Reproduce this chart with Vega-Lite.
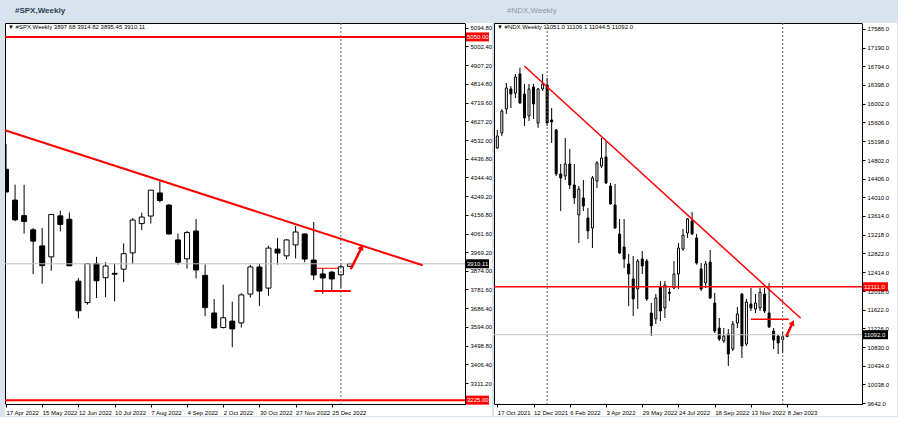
{
  "$schema": "https://vega.github.io/schema/vega-lite/v6.json",
  "background": "#d9e3ee",
  "padding": {"left": 0, "top": 6, "right": 0, "bottom": 0},
  "bounds": "flush",
  "spacing": 29,
  "config": {
    "font": "Liberation Sans",
    "view": {"stroke": "#000000", "fill": "#ffffff", "strokeWidth": 1},
    "axis": {"labelFont": "Liberation Sans", "labelFontSize": 6, "labelColor": "#000000", "domainColor": "#000000", "tickColor": "#000000", "tickSize": 3, "grid": false, "labelOverlap": false, "zindex": 1, "tickCount": 200},
    "scale": {"continuousPadding": 0}
  },
  "datasets": {
    "spx": [
      {"d": "2022-04-17", "o": 4385, "h": 4512, "l": 4267, "c": 4271},
      {"d": "2022-04-24", "o": 4230, "h": 4308, "l": 4124, "c": 4131},
      {"d": "2022-05-01", "o": 4152, "h": 4307, "l": 4062, "c": 4123},
      {"d": "2022-05-08", "o": 4081, "h": 4090, "l": 3858, "c": 4024},
      {"d": "2022-05-15", "o": 4000, "h": 4090, "l": 3810, "c": 3901},
      {"d": "2022-05-22", "o": 3945, "h": 4158, "l": 3875, "c": 4158},
      {"d": "2022-05-29", "o": 4151, "h": 4177, "l": 4073, "c": 4108},
      {"d": "2022-06-05", "o": 4134, "h": 4168, "l": 3900, "c": 3900},
      {"d": "2022-06-12", "o": 3823, "h": 3838, "l": 3636, "c": 3674},
      {"d": "2022-06-19", "o": 3715, "h": 3913, "l": 3705, "c": 3911},
      {"d": "2022-06-26", "o": 3912, "h": 3945, "l": 3738, "c": 3825},
      {"d": "2022-07-03", "o": 3840, "h": 3918, "l": 3742, "c": 3899},
      {"d": "2022-07-10", "o": 3862, "h": 3912, "l": 3721, "c": 3858},
      {"d": "2022-07-17", "o": 3883, "h": 4012, "l": 3818, "c": 3961},
      {"d": "2022-07-24", "o": 3965, "h": 4140, "l": 3910, "c": 4130},
      {"d": "2022-07-31", "o": 4112, "h": 4167, "l": 4079, "c": 4145},
      {"d": "2022-08-07", "o": 4150, "h": 4280, "l": 4112, "c": 4280},
      {"d": "2022-08-14", "o": 4266, "h": 4325, "l": 4218, "c": 4228},
      {"d": "2022-08-21", "o": 4205, "h": 4210, "l": 4057, "c": 4060},
      {"d": "2022-08-28", "o": 4030, "h": 4062, "l": 3906, "c": 3918},
      {"d": "2022-09-04", "o": 3935, "h": 4076, "l": 3886, "c": 4067},
      {"d": "2022-09-11", "o": 4075, "h": 4135, "l": 3837, "c": 3879},
      {"d": "2022-09-18", "o": 3852, "h": 3907, "l": 3647, "c": 3690},
      {"d": "2022-09-25", "o": 3663, "h": 3733, "l": 3584, "c": 3588},
      {"d": "2022-10-02", "o": 3590, "h": 3806, "l": 3585, "c": 3639},
      {"d": "2022-10-09", "o": 3622, "h": 3720, "l": 3491, "c": 3583},
      {"d": "2022-10-16", "o": 3613, "h": 3762, "l": 3590, "c": 3754},
      {"d": "2022-10-23", "o": 3758, "h": 3905, "l": 3740, "c": 3894},
      {"d": "2022-10-30", "o": 3894, "h": 3911, "l": 3698, "c": 3773},
      {"d": "2022-11-06", "o": 3788, "h": 4001, "l": 3749, "c": 3989},
      {"d": "2022-11-13", "o": 3984, "h": 4040, "l": 3906, "c": 3964},
      {"d": "2022-11-20", "o": 3950, "h": 4034, "l": 3933, "c": 4030},
      {"d": "2022-11-27", "o": 4005, "h": 4100, "l": 3937, "c": 4070},
      {"d": "2022-12-04", "o": 4060, "h": 4062, "l": 3918, "c": 3934},
      {"d": "2022-12-11", "o": 3929, "h": 4120, "l": 3828, "c": 3854},
      {"d": "2022-12-18", "o": 3859, "h": 3889, "l": 3760, "c": 3839},
      {"d": "2022-12-25", "o": 3868, "h": 3874, "l": 3778, "c": 3834},
      {"d": "2023-01-01", "o": 3855, "h": 3905, "l": 3790, "c": 3895},
      {"d": "2023-01-08", "o": 3897.68, "h": 3914.82, "l": 3895.45, "c": 3910.11}
    ],
    "ndx": [
      {"d": "2021-10-17", "o": 15060, "h": 15440, "l": 15040, "c": 15313},
      {"d": "2021-10-24", "o": 15377, "h": 15880, "l": 15313, "c": 15843},
      {"d": "2021-10-31", "o": 15887, "h": 16439, "l": 15781, "c": 16333},
      {"d": "2021-11-07", "o": 16312, "h": 16375, "l": 15908, "c": 16205},
      {"d": "2021-11-14", "o": 16227, "h": 16630, "l": 16120, "c": 16566},
      {"d": "2021-11-21", "o": 16630, "h": 16764, "l": 15993, "c": 16014},
      {"d": "2021-11-28", "o": 16205, "h": 16418, "l": 15526, "c": 15696},
      {"d": "2021-12-05", "o": 15738, "h": 16418, "l": 15632, "c": 16312},
      {"d": "2021-12-12", "o": 16354, "h": 16418, "l": 15674, "c": 15993},
      {"d": "2021-12-19", "o": 15589, "h": 16333, "l": 15484, "c": 16312},
      {"d": "2021-12-26", "o": 16312, "h": 16630, "l": 16269, "c": 16418},
      {"d": "2022-01-02", "o": 16397, "h": 16545, "l": 15526, "c": 15589},
      {"d": "2022-01-09", "o": 15653, "h": 15908, "l": 15165, "c": 15611},
      {"d": "2022-01-16", "o": 15441, "h": 15462, "l": 14464, "c": 14506},
      {"d": "2022-01-23", "o": 14506, "h": 14718, "l": 13720, "c": 14421},
      {"d": "2022-01-30", "o": 14464, "h": 15271, "l": 14379, "c": 14718},
      {"d": "2022-02-06", "o": 14718, "h": 15037, "l": 14187, "c": 14272},
      {"d": "2022-02-13", "o": 14272, "h": 14718, "l": 13869, "c": 13997},
      {"d": "2022-02-20", "o": 13635, "h": 14251, "l": 13041, "c": 14187},
      {"d": "2022-02-27", "o": 13997, "h": 14379, "l": 13720, "c": 13827},
      {"d": "2022-03-06", "o": 13572, "h": 13784, "l": 13126, "c": 13296},
      {"d": "2022-03-13", "o": 13359, "h": 14464, "l": 12934, "c": 14421},
      {"d": "2022-03-20", "o": 14357, "h": 14782, "l": 14209, "c": 14740},
      {"d": "2022-03-27", "o": 14676, "h": 15271, "l": 14634, "c": 14846},
      {"d": "2022-04-03", "o": 14867, "h": 15207, "l": 14294, "c": 14315},
      {"d": "2022-04-10", "o": 14251, "h": 14315, "l": 13860, "c": 13869},
      {"d": "2022-04-17", "o": 13848, "h": 14294, "l": 13338, "c": 13359},
      {"d": "2022-04-24", "o": 13232, "h": 13550, "l": 12807, "c": 12828},
      {"d": "2022-05-01", "o": 12956, "h": 13550, "l": 12510, "c": 12701},
      {"d": "2022-05-08", "o": 12595, "h": 12807, "l": 11702, "c": 12382},
      {"d": "2022-05-15", "o": 12276, "h": 12765, "l": 11490, "c": 11851},
      {"d": "2022-05-22", "o": 12064, "h": 12701, "l": 11639, "c": 12658},
      {"d": "2022-05-29", "o": 12701, "h": 12871, "l": 12382, "c": 12552},
      {"d": "2022-06-05", "o": 12658, "h": 12701, "l": 11809, "c": 11851},
      {"d": "2022-06-12", "o": 11554, "h": 11766, "l": 11065, "c": 11278},
      {"d": "2022-06-19", "o": 11426, "h": 11957, "l": 11320, "c": 11872},
      {"d": "2022-06-26", "o": 12106, "h": 12233, "l": 11384, "c": 11596},
      {"d": "2022-07-03", "o": 11660, "h": 12233, "l": 11448, "c": 12148},
      {"d": "2022-07-10", "o": 11994, "h": 12085, "l": 11809, "c": 11972},
      {"d": "2022-07-17", "o": 12085, "h": 12658, "l": 12064, "c": 12382},
      {"d": "2022-07-24", "o": 12382, "h": 13041, "l": 12064, "c": 12934},
      {"d": "2022-07-31", "o": 12913, "h": 13338, "l": 12871, "c": 13210},
      {"d": "2022-08-07", "o": 13253, "h": 13572, "l": 13147, "c": 13550},
      {"d": "2022-08-14", "o": 13508, "h": 13700, "l": 13210, "c": 13232},
      {"d": "2022-08-21", "o": 13147, "h": 13232, "l": 12580, "c": 12616},
      {"d": "2022-08-28", "o": 12489, "h": 12616, "l": 12021, "c": 12064},
      {"d": "2022-09-04", "o": 12191, "h": 12658, "l": 12085, "c": 12595},
      {"d": "2022-09-11", "o": 12637, "h": 12892, "l": 11851, "c": 11872},
      {"d": "2022-09-18", "o": 11766, "h": 11979, "l": 11129, "c": 11172},
      {"d": "2022-09-25", "o": 11235, "h": 11448, "l": 10959, "c": 11002},
      {"d": "2022-10-02", "o": 10959, "h": 11235, "l": 10917, "c": 11066},
      {"d": "2022-10-09", "o": 11108, "h": 11214, "l": 10428, "c": 10683},
      {"d": "2022-10-16", "o": 10789, "h": 11384, "l": 10747, "c": 11320},
      {"d": "2022-10-23", "o": 11342, "h": 11681, "l": 11235, "c": 11533},
      {"d": "2022-10-30", "o": 11957, "h": 11979, "l": 10598, "c": 10853},
      {"d": "2022-11-06", "o": 10895, "h": 11851, "l": 10853, "c": 11787},
      {"d": "2022-11-13", "o": 11745, "h": 12085, "l": 11596, "c": 11660},
      {"d": "2022-11-20", "o": 11639, "h": 11957, "l": 11554, "c": 11766},
      {"d": "2022-11-27", "o": 11660, "h": 12085, "l": 11596, "c": 11994},
      {"d": "2022-12-04", "o": 11957, "h": 12085, "l": 11554, "c": 11596},
      {"d": "2022-12-11", "o": 11554, "h": 12186, "l": 11235, "c": 11258},
      {"d": "2022-12-18", "o": 11172, "h": 11235, "l": 10789, "c": 10980},
      {"d": "2022-12-25", "o": 11066, "h": 11087, "l": 10683, "c": 10917},
      {"d": "2023-01-01", "o": 10990, "h": 11150, "l": 10700, "c": 11051},
      {"d": "2023-01-08", "o": 11051.0, "h": 11109.1, "l": 11044.5, "c": 11092.0}
    ]
  },
  "hconcat": [
    {
      "width": 460,
      "height": 381,
      "layer": [
        {
          "data": {"values": [{"s": "side"}]},
          "mark": {"type": "rect", "color": "#ffffff", "x2Offset": 27, "y2Offset": 12},
          "encoding": {"x": {"datum": {"year": 2023, "month": 4, "date": 7, "utc": true}, "type": "temporal"}, "x2": {"datum": {"year": 2023, "month": 4, "date": 7, "utc": true}},
            "y": {"datum": 5119.9, "type": "quantitative"}, "y2": {"datum": 3205.7}}
        },
        {
          "data": {"values": [{"s": "bottom"}]},
          "mark": {"type": "rect", "color": "#ffffff", "x2Offset": 27, "y2Offset": 12},
          "encoding": {"x": {"datum": {"year": 2022, "month": 4, "date": 16, "hours": 5, "minutes": 30, "utc": true}, "type": "temporal"}, "x2": {"datum": {"year": 2023, "month": 4, "date": 7, "utc": true}},
            "y": {"datum": 3205.7, "type": "quantitative"}, "y2": {"datum": 3205.7}}
        },
        {
          "data": {"values": [{"t": "#SPX,Weekly"}]},
          "mark": {"type": "text", "align": "left", "baseline": "middle", "dx": 10, "dy": -12, "fontSize": 8, "fontWeight": "bold", "color": "#2d3e52"},
          "encoding": {"x": {"datum": {"year": 2022, "month": 4, "date": 16, "hours": 5, "minutes": 30, "utc": true}, "type": "temporal"}, "y": {"datum": 5119.9, "type": "quantitative"}, "text": {"field": "t"}}
        },
        {
          "data": {"values": [{"t": "▼ #SPX,Weekly  3897.68 3914.82 3895.45 3910.11"}]},
          "mark": {"type": "text", "align": "left", "baseline": "middle", "dx": 3, "dy": 3.5, "fontSize": 6, "color": "#000000"},
          "encoding": {"x": {"datum": {"year": 2022, "month": 4, "date": 16, "hours": 5, "minutes": 30, "utc": true}, "type": "temporal"}, "y": {"datum": 5119.9, "type": "quantitative"}, "text": {"field": "t"}}
        },
        {
          "data": {"name": "spx"},
          "mark": {"type": "rule", "color": "#000000", "strokeWidth": 1, "clip": true},
          "encoding": {
            "x": {"field": "d", "type": "temporal", "scale": {"type": "utc", "padding": 0, "domain": [{"year": 2022, "month": 4, "date": 16, "hours": 5, "minutes": 30, "utc": true}, {"year": 2023, "month": 4, "date": 7, "utc": true}]},
              "axis": {"orient": "bottom", "title": null, "format": "%-d %b %Y", "labelAlign": "left", "labelPadding": 2, "labelFlush": false, "labelOverlap": false, "zindex": 1, "tickCount": 200,
                "values": [{"year": 2022, "month": 4, "date": 17, "utc": true}, {"year": 2022, "month": 5, "date": 15, "utc": true}, {"year": 2022, "month": 6, "date": 12, "utc": true}, {"year": 2022, "month": 7, "date": 10, "utc": true}, {"year": 2022, "month": 8, "date": 7, "utc": true}, {"year": 2022, "month": 9, "date": 4, "utc": true}, {"year": 2022, "month": 10, "date": 2, "utc": true}, {"year": 2022, "month": 10, "date": 30, "utc": true}, {"year": 2022, "month": 11, "date": 27, "utc": true}, {"year": 2022, "month": 12, "date": 25, "utc": true}]}},
            "y": {"field": "l", "type": "quantitative", "scale": {"domain": [3205.7, 5119.9], "zero": false, "nice": false},
              "axis": {"orient": "right", "title": null, "format": ".2f", "labelPadding": 2, "labelOverlap": false, "labelBaseline": "middle", "zindex": 1, "tickCount": 200,
                "values": [5094.80, 5002.40, 4907.20, 4814.80, 4719.60, 4627.20, 4532.00, 4436.80, 4344.40, 4249.20, 4156.80, 4061.60, 3969.20, 3874.00, 3781.60, 3686.40, 3594.00, 3498.80, 3406.40, 3311.20]}},
            "y2": {"field": "h"}
          }
        },
        {
          "data": {"name": "spx"},
          "mark": {"type": "bar", "width": 5, "stroke": "#000000", "strokeWidth": 1, "clip": true},
          "encoding": {
            "x": {"field": "d", "type": "temporal"},
            "y": {"field": "o", "type": "quantitative"},
            "y2": {"field": "c"},
            "fill": {"condition": {"test": "datum.c >= datum.o", "value": "#ffffff"}, "value": "#000000"}
          }
        },
        {
          "data": {"values": [{"p": 3910.11}]},
          "mark": {"type": "rule", "color": "#c0c0c0", "strokeWidth": 1},
          "encoding": {"y": {"field": "p", "type": "quantitative"}}
        },
        {
          "data": {"values": [{"p": 5050}, {"p": 3225}]},
          "mark": {"type": "rule", "color": "#ff0000", "strokeWidth": 2},
          "encoding": {"y": {"field": "p", "type": "quantitative"}}
        },
        {
          "data": {"values": [{"d": "2023-01-01"}]},
          "mark": {"type": "rule", "color": "#606060", "strokeWidth": 1, "strokeDash": [2, 2]},
          "encoding": {"x": {"field": "d", "type": "temporal"}}
        },
        {
          "data": {"values": [{"d": "2022-04-16T05:30:00Z", "p": 4580.8}, {"d": "2023-03-05T07:00:00Z", "p": 3902.6}]},
          "mark": {"type": "line", "color": "#ff0000", "strokeWidth": 2},
          "encoding": {"x": {"field": "d", "type": "temporal"}, "y": {"field": "p", "type": "quantitative"}}
        },
        {
          "data": {"values": [{"d1": "2022-12-13T07:00:00Z", "d2": "2022-12-30T00:00:00Z", "p": 3887.5, "w": "thin"}, {"d1": "2022-12-11T12:00:00Z", "d2": "2023-01-08T15:00:00Z", "p": 3773.5, "w": "thick"}]},
          "mark": {"type": "rule", "color": "#ff0000"},
          "encoding": {"x": {"field": "d1", "type": "temporal"}, "x2": {"field": "d2"}, "y": {"field": "p", "type": "quantitative"},
            "strokeWidth": {"field": "w", "type": "nominal", "scale": {"domain": ["thin", "thick"], "range": [1, 2]}, "legend": null}}
        },
        {
          "data": {"values": [{"d": "2023-01-08T15:00:00Z", "p": 3882.5}, {"d": "2023-01-16T12:00:00Z", "p": 3985}]},
          "mark": {"type": "line", "color": "#ff0000", "strokeWidth": 2.5},
          "encoding": {"x": {"field": "d", "type": "temporal"}, "y": {"field": "p", "type": "quantitative"}}
        },
        {
          "data": {"values": [{"d": "2023-01-17T02:00:00Z", "p": 3994.5}]},
          "mark": {"type": "point", "shape": "triangle-up", "filled": true, "color": "#ff0000", "size": 45, "angle": 26, "opacity": 1},
          "encoding": {"x": {"field": "d", "type": "temporal"}, "y": {"field": "p", "type": "quantitative"}}
        },
        {
          "data": {"values": [{"p": 5050, "k": "line"}, {"p": 3225, "k": "line"}, {"p": 3910.11, "k": "price"}]},
          "mark": {"type": "rect", "xOffset": 0, "x2Offset": 24, "yOffset": -4.5, "y2Offset": 4.5},
          "encoding": {"x": {"datum": {"year": 2023, "month": 4, "date": 7, "utc": true}, "type": "temporal"}, "x2": {"datum": {"year": 2023, "month": 4, "date": 7, "utc": true}},
            "y": {"field": "p", "type": "quantitative"}, "y2": {"field": "p"},
            "color": {"field": "k", "type": "nominal", "scale": {"domain": ["line", "price"], "range": ["#ff0000", "#000000"]}, "legend": null}}
        },
        {
          "data": {"values": [{"p": 5050, "t": "5050.00"}, {"p": 3225, "t": "3225.00"}, {"p": 3910.11, "t": "3910.11"}]},
          "mark": {"type": "text", "align": "left", "baseline": "middle", "dx": 2, "fontSize": 6, "color": "#ffffff"},
          "encoding": {"x": {"datum": {"year": 2023, "month": 4, "date": 7, "utc": true}, "type": "temporal"}, "y": {"field": "p", "type": "quantitative"}, "text": {"field": "t"}}
        }
      ]
    },
    {
      "width": 368,
      "height": 381,
      "layer": [
        {
          "data": {"values": [{"s": "side"}]},
          "mark": {"type": "rect", "color": "#ffffff", "x2Offset": 35, "y2Offset": 12},
          "encoding": {"x": {"datum": {"year": 2023, "month": 5, "date": 3, "hours": 14, "utc": true}, "type": "temporal"}, "x2": {"datum": {"year": 2023, "month": 5, "date": 3, "hours": 14, "utc": true}},
            "y": {"datum": 17713, "type": "quantitative"}, "y2": {"datum": 9621}}
        },
        {
          "data": {"values": [{"s": "bottom"}]},
          "mark": {"type": "rect", "color": "#ffffff", "x2Offset": 35, "y2Offset": 12},
          "encoding": {"x": {"datum": {"year": 2021, "month": 10, "date": 11, "hours": 21, "minutes": 40, "utc": true}, "type": "temporal"}, "x2": {"datum": {"year": 2023, "month": 5, "date": 3, "hours": 14, "utc": true}},
            "y": {"datum": 9621, "type": "quantitative"}, "y2": {"datum": 9621}}
        },
        {
          "data": {"values": [{"t": "#NDX,Weekly"}]},
          "mark": {"type": "text", "align": "left", "baseline": "middle", "dx": 13, "dy": -12, "fontSize": 8, "fontWeight": "normal", "color": "#8c99a8"},
          "encoding": {"x": {"datum": {"year": 2021, "month": 10, "date": 11, "hours": 21, "minutes": 40, "utc": true}, "type": "temporal"}, "y": {"datum": 17713, "type": "quantitative"}, "text": {"field": "t"}}
        },
        {
          "data": {"values": [{"t": "▼ #NDX,Weekly  11051.0 11109.1 11044.5 11092.0"}]},
          "mark": {"type": "text", "align": "left", "baseline": "middle", "dx": 3, "dy": 3.5, "fontSize": 6, "color": "#000000"},
          "encoding": {"x": {"datum": {"year": 2021, "month": 10, "date": 11, "hours": 21, "minutes": 40, "utc": true}, "type": "temporal"}, "y": {"datum": 17713, "type": "quantitative"}, "text": {"field": "t"}}
        },
        {
          "data": {"name": "ndx"},
          "mark": {"type": "rule", "color": "#000000", "strokeWidth": 1, "clip": true},
          "encoding": {
            "x": {"field": "d", "type": "temporal", "scale": {"type": "utc", "padding": 0, "domain": [{"year": 2021, "month": 10, "date": 11, "hours": 21, "minutes": 40, "utc": true}, {"year": 2023, "month": 5, "date": 3, "hours": 14, "utc": true}]},
              "axis": {"orient": "bottom", "title": null, "format": "%-d %b %Y", "labelAlign": "left", "labelPadding": 2, "labelFlush": false, "labelOverlap": false, "zindex": 1, "tickCount": 200,
                "values": [{"year": 2021, "month": 10, "date": 17, "utc": true}, {"year": 2021, "month": 12, "date": 12, "utc": true}, {"year": 2022, "month": 2, "date": 6, "utc": true}, {"year": 2022, "month": 4, "date": 3, "utc": true}, {"year": 2022, "month": 5, "date": 29, "utc": true}, {"year": 2022, "month": 7, "date": 24, "utc": true}, {"year": 2022, "month": 9, "date": 18, "utc": true}, {"year": 2022, "month": 11, "date": 13, "utc": true}, {"year": 2023, "month": 1, "date": 8, "utc": true}]}},
            "y": {"field": "l", "type": "quantitative", "scale": {"domain": [9621, 17713], "zero": false, "nice": false},
              "axis": {"orient": "right", "title": null, "format": ".1f", "labelPadding": 2, "labelOverlap": false, "labelBaseline": "middle", "zindex": 1, "tickCount": 200,
                "values": [17586, 17190, 16794, 16398, 16002, 15606, 15198, 14802, 14406, 14010, 13614, 13218, 12822, 12414, 12018, 11622, 11226, 10830, 10434, 10038, 9642]}},
            "y2": {"field": "h"}
          }
        },
        {
          "data": {"name": "ndx"},
          "mark": {"type": "bar", "width": 2, "stroke": "#000000", "strokeWidth": 1, "clip": true},
          "encoding": {
            "x": {"field": "d", "type": "temporal"},
            "y": {"field": "o", "type": "quantitative"},
            "y2": {"field": "c"},
            "fill": {"condition": {"test": "datum.c >= datum.o", "value": "#ffffff"}, "value": "#000000"}
          }
        },
        {
          "data": {"values": [{"p": 11092.0}]},
          "mark": {"type": "rule", "color": "#c0c0c0", "strokeWidth": 1},
          "encoding": {"y": {"field": "p", "type": "quantitative"}}
        },
        {
          "data": {"values": [{"p": 12111}]},
          "mark": {"type": "rule", "color": "#ff0000", "strokeWidth": 1.5},
          "encoding": {"y": {"field": "p", "type": "quantitative"}}
        },
        {
          "data": {"values": [{"d": "2022-01-02"}, {"d": "2023-01-01"}]},
          "mark": {"type": "rule", "color": "#606060", "strokeWidth": 1, "strokeDash": [2, 2]},
          "encoding": {"x": {"field": "d", "type": "temporal"}}
        },
        {
          "data": {"values": [{"d": "2021-11-27T17:00:00Z", "p": 16800}, {"d": "2023-01-28T21:00:00Z", "p": 11441}]},
          "mark": {"type": "line", "color": "#ff0000", "strokeWidth": 1.5},
          "encoding": {"x": {"field": "d", "type": "temporal"}, "y": {"field": "p", "type": "quantitative"}}
        },
        {
          "data": {"values": [{"d1": "2022-11-13T00:00:00Z", "d2": "2023-01-10T10:00:00Z", "p": 11420}]},
          "mark": {"type": "rule", "color": "#ff0000", "strokeWidth": 1.5},
          "encoding": {"x": {"field": "d1", "type": "temporal"}, "x2": {"field": "d2"}, "y": {"field": "p", "type": "quantitative"}}
        },
        {
          "data": {"values": [{"d": "2023-01-06T19:00:00Z", "p": 11065}, {"d": "2023-01-15T12:00:00Z", "p": 11320}]},
          "mark": {"type": "line", "color": "#ff0000", "strokeWidth": 2.5},
          "encoding": {"x": {"field": "d", "type": "temporal"}, "y": {"field": "p", "type": "quantitative"}}
        },
        {
          "data": {"values": [{"d": "2023-01-16T10:00:00Z", "p": 11348}]},
          "mark": {"type": "point", "shape": "triangle-up", "filled": true, "color": "#ff0000", "size": 40, "angle": 25, "opacity": 1},
          "encoding": {"x": {"field": "d", "type": "temporal"}, "y": {"field": "p", "type": "quantitative"}}
        },
        {
          "data": {"values": [{"p": 12111, "k": "line"}, {"p": 11092.0, "k": "price"}]},
          "mark": {"type": "rect", "xOffset": 0, "x2Offset": 26, "yOffset": -4.5, "y2Offset": 4.5},
          "encoding": {"x": {"datum": {"year": 2023, "month": 5, "date": 3, "hours": 14, "utc": true}, "type": "temporal"}, "x2": {"datum": {"year": 2023, "month": 5, "date": 3, "hours": 14, "utc": true}},
            "y": {"field": "p", "type": "quantitative"}, "y2": {"field": "p"},
            "color": {"field": "k", "type": "nominal", "scale": {"domain": ["line", "price"], "range": ["#ff0000", "#000000"]}, "legend": null}}
        },
        {
          "data": {"values": [{"p": 12111, "t": "12111.0"}, {"p": 11092.0, "t": "11092.0"}]},
          "mark": {"type": "text", "align": "left", "baseline": "middle", "dx": 2, "fontSize": 6, "color": "#ffffff"},
          "encoding": {"x": {"datum": {"year": 2023, "month": 5, "date": 3, "hours": 14, "utc": true}, "type": "temporal"}, "y": {"field": "p", "type": "quantitative"}, "text": {"field": "t"}}
        }
      ]
    }
  ]
}
